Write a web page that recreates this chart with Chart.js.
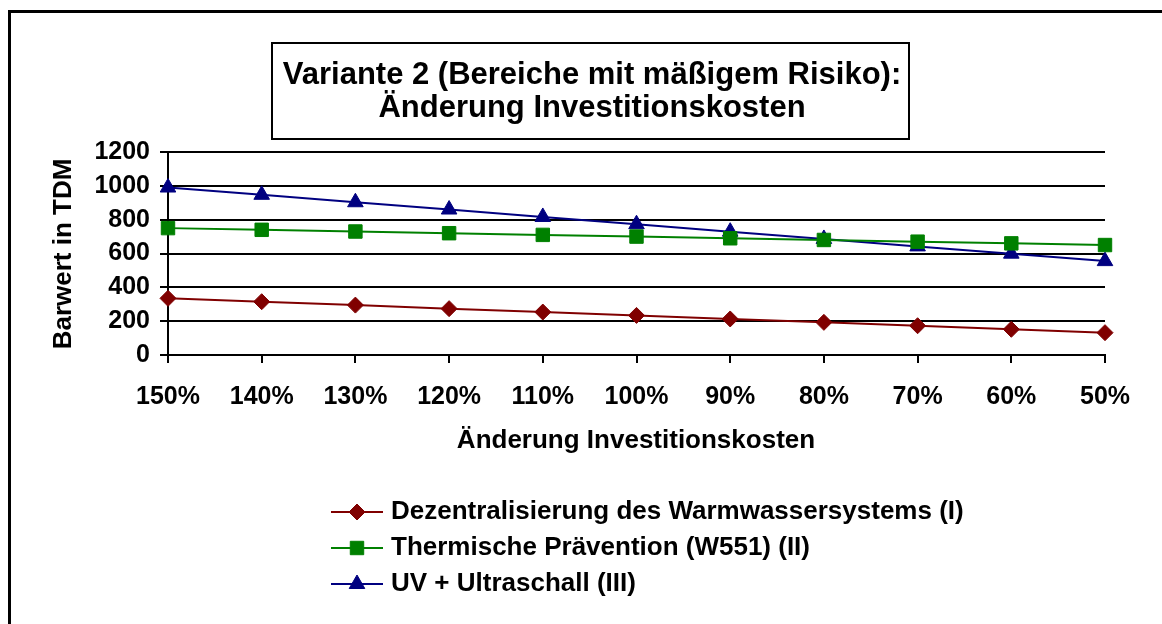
<!DOCTYPE html>
<html>
<head>
<meta charset="utf-8">
<script src="https://cdn.jsdelivr.net/npm/chart.js@4/dist/chart.umd.min.js"></script>
<style>
  html, body { margin: 0; padding: 0; background: #ffffff; }
  #c { display: block; }
</style>
</head>
<body>
<canvas id="c" width="1162" height="624"></canvas>
<script>
// ---- Data ----
const categories = ['150%', '140%', '130%', '120%', '110%', '100%', '90%', '80%', '70%', '60%', '50%'];
const dezentralisierung = [335, 315, 295, 274, 254, 234, 213, 193, 173, 152, 132];
const thermische = [750, 740, 730, 720, 710, 700, 690, 680, 670, 660, 650];
const uvUltraschall = [990, 947, 903, 860, 816, 773, 729, 686, 642, 599, 555];
const seriesLabels = [
  'Dezentralisierung des Warmwassersystems (I)',
  'Thermische Prävention (W551) (II)',
  'UV + Ultraschall (III)'
];
const titleLines = ['Variante 2 (Bereiche mit mäßigem Risiko):', 'Änderung Investitionskosten'];
const xTitle = 'Änderung Investitionskosten';
const yTitle = 'Barwert in TDM';

const FONT = '"Liberation Sans", Arial, Helvetica, sans-serif';

function drawMarker(ctx, style, x, y, r, color) {
  ctx.save();
  ctx.fillStyle = color;
  ctx.strokeStyle = color;
  ctx.lineWidth = 1;
  ctx.beginPath();
  if (style === 'rectRot') {
    ctx.moveTo(x - r, y); ctx.lineTo(x, y - r); ctx.lineTo(x + r, y); ctx.lineTo(x, y + r);
  } else if (style === 'rect') {
    const s = Math.SQRT1_2 * r;
    ctx.rect(x - s, y - s, 2 * s, 2 * s);
  } else if (style === 'triangle') {
    ctx.moveTo(x, y - r);
    ctx.lineTo(x + Math.sin(2 * Math.PI / 3) * r, y + r / 2);
    ctx.lineTo(x - Math.sin(2 * Math.PI / 3) * r, y + r / 2);
  }
  ctx.closePath();
  ctx.fill();
  ctx.stroke();
  ctx.restore();
}

const decor = {
  id: 'decor',
  afterDraw(chart) {
    const ctx = chart.ctx;
    ctx.save();
    // outer frame (cropped on right/bottom)
    ctx.strokeStyle = '#000';
    ctx.lineWidth = 3;
    ctx.strokeRect(9.5, 11.5, 1400, 1000);

    // title box
    ctx.fillStyle = '#fff';
    ctx.fillRect(272, 43, 637, 96);
    ctx.lineWidth = 2;
    ctx.strokeRect(272, 43, 637, 96);
    ctx.fillStyle = '#000';
    ctx.textAlign = 'center';
    ctx.textBaseline = 'middle';
    ctx.font = 'bold 31px ' + FONT;
    ctx.fillText(titleLines[0], 592, 75);
    ctx.fillText(titleLines[1], 592, 108);

    // axis titles
    ctx.font = 'bold 26px ' + FONT;
    ctx.fillText(xTitle, 636, 441);
    ctx.save();
    ctx.translate(64, 254);
    ctx.rotate(-Math.PI / 2);
    ctx.fillText(yTitle, 0, 0);
    ctx.restore();

    // legend
    const rows = [512, 548, 584];
    ctx.textAlign = 'left';
    chart.data.datasets.forEach((ds, i) => {
      const y = rows[i];
      ctx.strokeStyle = ds.borderColor;
      ctx.lineWidth = 2;
      ctx.beginPath();
      ctx.moveTo(331, y);
      ctx.lineTo(383, y);
      ctx.stroke();
      drawMarker(ctx, ds.pointStyle, 357, y, ds.pointRadius, ds.pointBackgroundColor);
      ctx.fillStyle = '#000';
      ctx.font = 'bold 26px ' + FONT;
      ctx.fillText(ds.label, 391, y);
    });
    ctx.restore();
  }
};

new Chart(document.getElementById('c'), {
  type: 'line',
  data: {
    labels: categories,
    datasets: [
      {
        label: seriesLabels[0], data: dezentralisierung,
        borderColor: '#800000', backgroundColor: '#800000',
        pointBackgroundColor: '#800000', pointBorderColor: '#800000',
        pointStyle: 'rectRot', pointRadius: 8, borderWidth: 2, pointBorderWidth: 1,
        tension: 0, fill: false
      },
      {
        label: seriesLabels[1], data: thermische,
        borderColor: '#008000', backgroundColor: '#008000',
        pointBackgroundColor: '#008000', pointBorderColor: '#008000',
        pointStyle: 'rect', pointRadius: 9.5, borderWidth: 2, pointBorderWidth: 1,
        tension: 0, fill: false
      },
      {
        label: seriesLabels[2], data: uvUltraschall,
        borderColor: '#000080', backgroundColor: '#000080',
        pointBackgroundColor: '#000080', pointBorderColor: '#000080',
        pointStyle: 'triangle', pointRadius: 9, borderWidth: 2, pointBorderWidth: 1,
        tension: 0, fill: false
      }
    ]
  },
  options: {
    responsive: false,
    animation: false,
    devicePixelRatio: 1,
    layout: { padding: { top: 152, right: 57, bottom: 0, left: 0 } },
    plugins: {
      legend: { display: false },
      title: { display: false },
      tooltip: { enabled: false }
    },
    scales: {
      x: {
        offset: false,
        afterFit(scale) { scale.height = 269; },
        grid: { drawOnChartArea: false, drawTicks: true, tickLength: 8, color: '#000', lineWidth: 2 },
        border: { display: true, color: '#000', width: 2 },
        ticks: {
          color: '#000', font: { family: FONT, size: 25, weight: 'bold' },
          padding: 19, maxRotation: 0, autoSkip: false
        }
      },
      y: {
        min: 0, max: 1200,
        afterFit(scale) { scale.width = 168; },
        grid: { color: '#000', lineWidth: 2, drawTicks: true, tickLength: 8 },
        border: { display: true, color: '#000', width: 2 },
        ticks: {
          stepSize: 200, color: '#000',
          font: { family: FONT, size: 25, weight: 'bold' },
          padding: 10,
          callback: (v) => String(v)
        }
      }
    }
  },
  plugins: [decor]
});
</script>
</body>
</html>
